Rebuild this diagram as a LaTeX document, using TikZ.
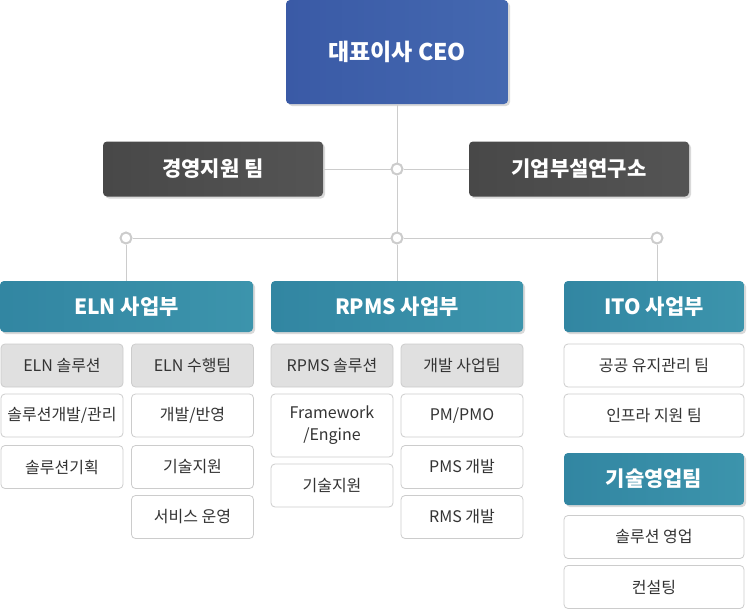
\documentclass[tikz,border=0pt]{standalone}
\usepackage{fontspec}
\setmainfont{Noto Sans CJK KR}
\usetikzlibrary{shadows}

\definecolor{ceoblue}{RGB}{58,90,166}
\definecolor{ceoblue2}{RGB}{68,104,176}
\definecolor{darkbox}{RGB}{72,72,72}
\definecolor{darkbox2}{RGB}{84,84,84}
\definecolor{teal}{RGB}{50,134,162}
\definecolor{teal2}{RGB}{60,148,172}
\definecolor{subgray}{RGB}{224,224,224}
\definecolor{boxline}{RGB}{204,204,204}
\definecolor{wire}{RGB}{204,204,204}
\definecolor{subtext}{RGB}{51,51,51}

\tikzset{
  hshadow/.style={drop shadow={shadow xshift=2pt, shadow yshift=-2pt, opacity=0.25, fill=black!60}},
  ceobox/.style={hshadow, rounded corners=4pt, left color=ceoblue, right color=ceoblue2,
    text=white, font=\bfseries\fontsize{23}{27}\selectfont, inner sep=0pt},
  staffbox/.style={hshadow, rounded corners=4pt, left color=darkbox, right color=darkbox2,
    text=white, font=\bfseries\fontsize{21}{25}\selectfont, inner sep=0pt,
    minimum width=220pt, minimum height=55pt},
  divbox/.style={hshadow, rounded corners=4pt, left color=teal, right color=teal2,
    text=white, font=\bfseries\fontsize{21}{25}\selectfont, inner sep=0pt, minimum height=51pt},
  teambox/.style={rounded corners=4pt, fill=subgray, draw=boxline, line width=0.8pt,
    text=subtext, font=\fontsize{16}{19}\selectfont, inner sep=0pt, minimum height=43pt},
  jobbox/.style={rounded corners=4pt, fill=white, draw=boxline, line width=0.8pt,
    text=subtext, font=\fontsize{16}{22}\selectfont, inner sep=0pt, minimum height=43pt,
    align=center},
  joint/.style={circle, draw=wire, line width=2pt, fill=white, minimum size=11pt, inner sep=0pt},
  wireline/.style={draw=wire, line width=1pt}
}

\begin{document}
\begin{tikzpicture}[x=1pt, y=-1pt]
  \useasboundingbox (0,0) rectangle (747,610);

  \node[ceobox, minimum width=222pt, minimum height=104pt] (ceo) at (397,52) {대표이사 CEO};

  \node[staffbox] (mgmt) at (213,169) {경영지원 팀};
  \node[staffbox] (lab) at (579,169) {기업부설연구소};

  \node[joint] (j0) at (397,169) {};
  \node[joint] (j1) at (126,238) {};
  \node[joint] (j2) at (397,238) {};
  \node[joint] (j3) at (657,238) {};

  \node[divbox, minimum width=253pt] (eln) at (126.5,306.5) {ELN 사업부};
  \node[divbox, minimum width=252pt] (rpms) at (397,306.5) {RPMS 사업부};
  \node[divbox, minimum width=180pt] (ito) at (654,306.5) {ITO 사업부};

  \begin{scope}[jobbox/.append style={minimum width=122pt}, teambox/.append style={minimum width=122pt}]
    \node[teambox] (elnsol) at (62,365.5) {ELN 솔루션};
    \node[teambox] (elnrun) at (192.5,365.5) {ELN 수행팀};
    \node[jobbox] (e1) at (62,415.5) {솔루션개발/관리};
    \node[jobbox] (e2) at (62,467) {솔루션기획};
    \node[jobbox] (e3) at (192.5,415.5) {개발/반영};
    \node[jobbox] (e4) at (192.5,467) {기술지원};
    \node[jobbox] (e5) at (192.5,517) {서비스 운영};

    \node[teambox] (rpmssol) at (332,365.5) {RPMS 솔루션};
    \node[teambox] (rpmsdev) at (462,365.5) {개발 사업팀};
    \node[jobbox, minimum height=63pt] (r1) at (332,425.5) {Framework\\/Engine};
    \node[jobbox] (r2) at (332,485.5) {기술지원};
    \node[jobbox] (r3) at (462,415.5) {PM/PMO};
    \node[jobbox] (r4) at (462,467) {PMS 개발};
    \node[jobbox] (r5) at (462,517) {RMS 개발};
  \end{scope}

  \begin{scope}[jobbox/.append style={minimum width=180pt}]
    \node[jobbox] (i1) at (654,365.5) {공공 유지관리 팀};
    \node[jobbox] (i2) at (654,415.5) {인프라 지원 팀};
    \node[divbox, minimum width=180pt, minimum height=52pt] (sales) at (654,479) {기술영업팀};
    \node[jobbox] (s1) at (654,537) {솔루션 영업};
    \node[jobbox] (s2) at (654,587) {컨설팅};
  \end{scope}

  \draw[wireline] (ceo) -- (j0);
  \draw[wireline] (j0) -- (j2);
  \draw[wireline] (j2) -- (rpms);
  \draw[wireline] (mgmt) -- (j0);
  \draw[wireline] (j0) -- (lab);
  \draw[wireline] (j1) -- (j2);
  \draw[wireline] (j2) -- (j3);
  \draw[wireline] (j1) -- (j1 |- eln.north);
  \draw[wireline] (j3) -- (j3 |- ito.north);
\end{tikzpicture}
\end{document}
